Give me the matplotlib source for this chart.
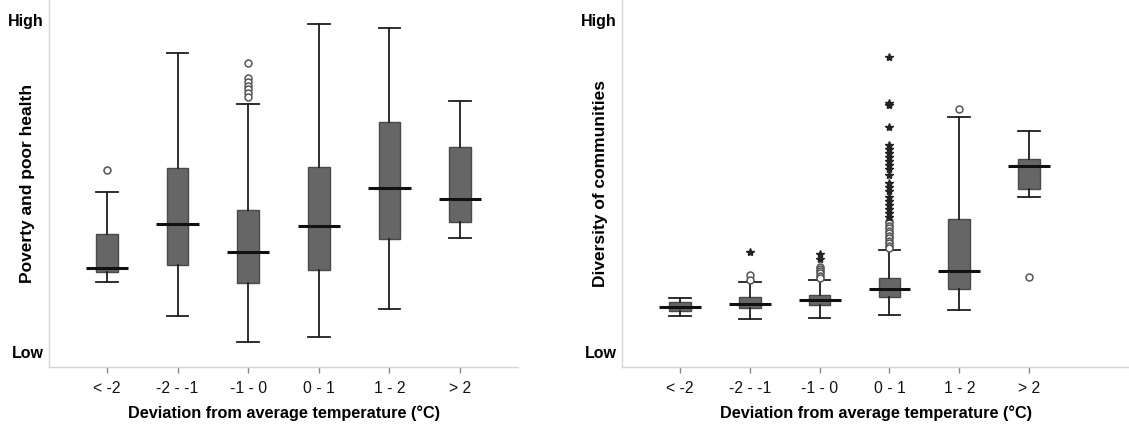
import matplotlib

matplotlib.use('Agg')
import matplotlib.pyplot as plt

plt.rcParams['font.family'] = ['Liberation Sans', 'DejaVu Sans']

categories = ["< -2", "-2 - -1", "-1 - 0", "0 - 1", "1 - 2", "> 2"]

# Left panel: poverty and poor health (0 = Low, 100 = High)
poverty_whislo = [21.1, 11.0, 3.0, 4.4, 12.9, 34.3]
poverty_q1 = [24.0, 26.2, 20.9, 24.6, 33.9, 39.1]
poverty_med = [25.3, 38.6, 30.1, 38.0, 49.4, 46.2]
poverty_q3 = [35.5, 55.5, 42.7, 55.8, 69.2, 61.7]
poverty_whishi = [48.1, 90.0, 74.8, 98.7, 97.6, 75.7]
poverty_circles = [[54.7], [], [87.1, 82.4, 81.3, 80.2, 79.1, 78.0, 76.9], [], [], []]
poverty_stars = [[], [], [], [], [], []]

# Right panel: diversity of communities
diversity_whislo = [10.8, 10.0, 10.2, 11.2, 12.7, 46.8]
diversity_q1 = [12.4, 13.3, 14.2, 16.7, 19.1, 49.1]
diversity_med = [13.5, 14.5, 15.8, 19.0, 24.5, 56.1]
diversity_q3 = [15.1, 16.7, 17.3, 22.4, 40.1, 58.2]
diversity_whishi = [16.2, 21.0, 21.6, 30.6, 70.8, 66.6]
diversity_circles = [
    [],
    [23.2, 21.7],
    [25.7, 25.1, 24.4, 23.7, 23.0, 22.2],
    [39.5, 38.8, 38.0, 37.3, 36.5, 35.8, 35.0, 34.3, 33.5, 32.8, 32.0, 31.3],
    [73.1],
    [22.5],
]
diversity_stars = [
    [],
    [30.2],
    [29.4, 27.9],
    [88.9, 74.9, 74.4, 67.7, 62.3, 61.1, 59.9, 58.7, 57.5, 56.3, 55.1, 53.3,
     50.9, 49.7, 48.5, 46.7, 45.5, 44.3, 43.1, 41.9, 40.7],
    [],
    [],
]


def draw_panel(ax, ylabel, whislo, q1, med, q3, whishi, circles, stars, xlim, label_x):
    positions = list(range(1, len(categories) + 1))
    stats = []
    for i in range(len(categories)):
        stats.append(dict(med=med[i], q1=q1[i], q3=q3[i],
                          whislo=whislo[i], whishi=whishi[i], fliers=circles[i]))

    ax.bxp(stats, positions=positions, widths=0.31, capwidths=0.31,
           patch_artist=True,
           boxprops=dict(facecolor='#666666', edgecolor='#4a4a4a', linewidth=1),
           medianprops=dict(linewidth=0),
           whiskerprops=dict(color='#1e1e1e', linewidth=1.3),
           capprops=dict(color='#1e1e1e', linewidth=1.3),
           flierprops=dict(marker='o', markerfacecolor='white',
                           markeredgecolor='#555555', markersize=5,
                           markeredgewidth=1.1))

    # median bars stick out past the boxes
    for p, m in zip(positions, med):
        ax.hlines(m, p - 0.3, p + 0.3, color='#111111', linewidth=2.2, zorder=4)

    # extreme values drawn as stars
    for p, s in zip(positions, stars):
        if s:
            ax.plot([p] * len(s), s, linestyle='none', marker='*',
                    color='#222222', markersize=6, zorder=4)

    ax.set_xlim(*xlim)
    ax.set_ylim(-4.5, 106)
    ax.set_xticks(positions)
    ax.set_xticklabels(categories, fontsize=11.3, color='#111111')
    ax.set_yticks([0, 100])
    ax.set_yticklabels(['Low', 'High'], fontsize=11.5, fontweight='bold')
    ax.tick_params(axis='y', length=0, pad=4)
    ax.tick_params(axis='x', length=4, width=1, color='#888888', pad=6)

    for side in ['top', 'right']:
        ax.spines[side].set_visible(False)
    for side in ['left', 'bottom']:
        ax.spines[side].set_color('#d6d6d6')
        ax.spines[side].set_linewidth(1)

    ax.set_xlabel('Deviation from average temperature (°C)', fontsize=11.7,
                  fontweight='bold', labelpad=7)
    ax.set_ylabel(ylabel, fontsize=12.5, fontweight='bold')
    ax.yaxis.set_label_coords(label_x, 0.5)


fig = plt.figure(figsize=(11.29, 4.24), dpi=100)
ax1 = fig.add_axes([49 / 1129, 57 / 424, 469 / 1129, 367 / 424])
ax2 = fig.add_axes([622 / 1129, 57 / 424, 507 / 1129, 367 / 424])

draw_panel(ax1, 'Poverty and poor health', poverty_whislo, poverty_q1, poverty_med,
           poverty_q3, poverty_whishi, poverty_circles, poverty_stars,
           (0.18, 6.82), -0.030)
draw_panel(ax2, 'Diversity of communities', diversity_whislo, diversity_q1, diversity_med,
           diversity_q3, diversity_whishi, diversity_circles, diversity_stars,
           (0.17, 7.43), -0.028)

fig.savefig('out.png', dpi=100)
